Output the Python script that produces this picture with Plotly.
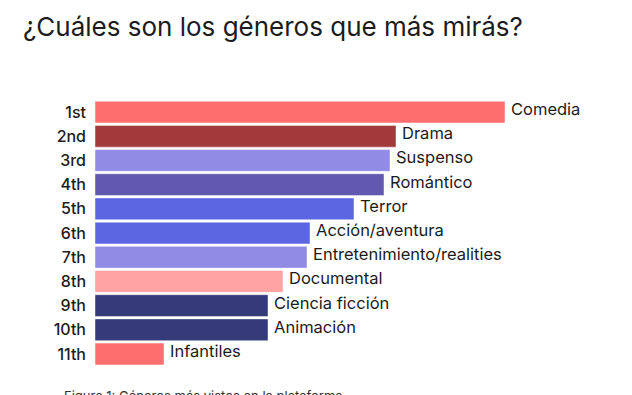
import plotly.graph_objects as go

ranks = ["1st", "2nd", "3rd", "4th", "5th", "6th", "7th", "8th", "9th", "10th", "11th"]
genres = ["Comedia", "Drama", "Suspenso", "Romántico", "Terror", "Acción/aventura",
          "Entretenimiento/realities", "Documental", "Ciencia ficción", "Animación", "Infantiles"]
values = [82.0, 60.2, 59.0, 57.8, 51.8, 43.0, 42.4, 37.6, 34.6, 34.6, 13.8]
colors = ["#FF6F70", "#A23A3B", "#918BE6", "#6159B0", "#5C66E2", "#5C66E2", "#918BE6",
          "#FFA2A3", "#353A79", "#353A79", "#FF6F70"]

FONT = "Inter, Lato, sans-serif"

fig = go.Figure()
fig.add_trace(go.Bar(
    x=values, y=ranks, orientation="h",
    marker=dict(color=colors, line=dict(color="rgba(255,255,255,0.45)", width=1)),
    hoverinfo="skip",
))

for v, r, g in zip(values, ranks, genres):
    fig.add_annotation(x=v, y=r, text=g, xref="x", yref="y", xanchor="left",
                       yanchor="middle", xshift=4, yshift=3, showarrow=False,
                       font=dict(family=FONT, size=16.5, color="#1c1c1c"))

fig.add_annotation(x=0, xref="x", xanchor="left", xshift=-33, y=-0.1, yref="paper",
                   yanchor="middle", text="Figura 1: Géneros más vistos en la plataforma",
                   showarrow=False, font=dict(family=FONT, size=13, color="#333"))

fig.update_layout(
    width=624, height=387,
    margin=dict(l=87, r=37, t=92, b=26),
    paper_bgcolor="white", plot_bgcolor="white",
    bargap=0.1,
    showlegend=False,
    title=dict(text="¿Cuáles son los géneros que más mirás?", x=0.024, xanchor="left",
               y=0.95, yanchor="middle",
               font=dict(family=FONT, size=26, color="#1c1c1c")),
    xaxis=dict(range=[0, 100], visible=False, fixedrange=True, automargin=False),
    yaxis=dict(autorange="reversed", showgrid=False, zeroline=False, showline=False,
               ticks="", ticklabelstandoff=8, fixedrange=True, automargin=False,
               tickfont=dict(family=FONT, size=16, color="#1c1c1c", weight=500)),
)

fig.write_html("out.html", config={"displayModeBar": False})
